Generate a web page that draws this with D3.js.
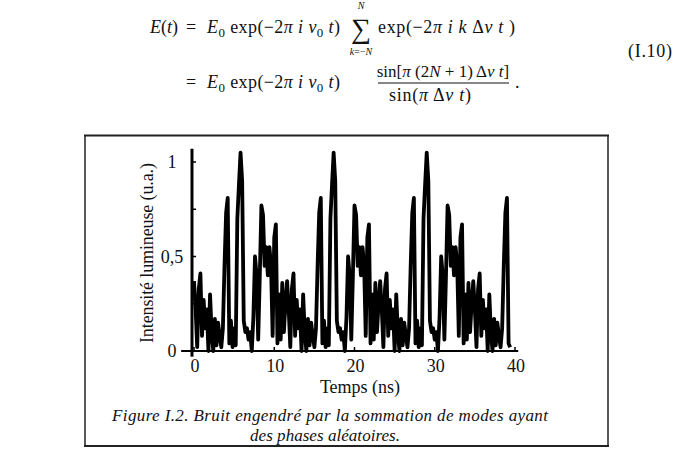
<!DOCTYPE html>
<html><head><meta charset="utf-8">
<script src="https://cdn.jsdelivr.net/npm/d3@7"></script>
<style>body{margin:0;background:#fff}svg{display:block}text{font-family:"Liberation Serif","Times New Roman",serif;fill:#111}</style>
</head><body><svg id="c" width="693" height="470"></svg>
<script>
// ---- data ----
const timeStepNs = 0.2;
const intensity = [
 0.37,0.22,0.02,0.33,0.41,0.08,0.27,0.12,0.22,0.00,
 0.30,0.10,0.00,0.17,0.03,0.15,0.08,0.02,0.12,0.45,
 0.73,0.81,0.04,0.16,0.02,0.12,0.03,0.70,0.88,1.05,
 0.90,0.16,0.10,0.12,0.06,0.10,0.00,0.18,0.50,0.40,
 0.06,0.40,0.77,0.72,0.45,0.55,0.40,0.55,0.45,0.08,
 0.60,0.67,0.04,0.30,0.06,0.36,0.10,0.25,
 0.37,0.22,0.02,0.33,0.41,0.08,0.27,0.12,0.22,0.00,
 0.30,0.10,0.00,0.17,0.03,0.15,0.08,0.02,0.12,0.45,
 0.73,0.81,0.04,0.16,0.02,0.12,0.03,0.70,0.88,1.05,
 0.90,0.16,0.10,0.12,0.06,0.10,0.00,0.18,0.50,0.40,
 0.06,0.40,0.77,0.72,0.45,0.55,0.40,0.55,0.45,0.08,
 0.60,0.67,0.04,0.30,0.06,0.36,0.10,0.25,
 0.37,0.22,0.02,0.33,0.41,0.08,0.27,0.12,0.22,0.00,
 0.30,0.10,0.00,0.17,0.03,0.15,0.08,0.02,0.12,0.45,
 0.73,0.81,0.04,0.16,0.02,0.12,0.03,0.70,0.88,1.05,
 0.90,0.16,0.10,0.12,0.06,0.10,0.00,0.18,0.50,0.40,
 0.06,0.40,0.77,0.72,0.45,0.55,0.40,0.55,0.45,0.08,
 0.60,0.67,0.04,0.30,0.06,0.36,0.10,0.25,
 0.37,0.22,0.02,0.33,0.41,0.08,0.27,0.12,0.22,0.00,
 0.30,0.10,0.00,0.17,0.03,0.15,0.08,0.02,0.12,0.45,
 0.73,0.81,0.04,0.02
];
const xTicks = [0, 10, 20, 30, 40];
const xTickLabels = ["0", "10", "20", "30", "40"];
const yTicks = [0, 0.5, 1];
const yTickLabels = ["0", "0,5", "1"];
const yMinorTicks = [0.25, 0.5, 0.75, 1];
const xTitle = "Temps (ns)";
const yTitle = "Intensité lumineuse (u.a.)";
const caption1 = "Figure I.2. Bruit engendré par la sommation de modes ayant";
const caption2 = "des phases aléatoires.";

const svg = d3.select("#c");
svg.append("rect").attr("width",693).attr("height",470).attr("fill","#fff");

// ---- equation ----
function rich(x, y, parts, size, opts = {}) {
  const t = svg.append("text").attr("x", x).attr("y", y).attr("font-size", size)
    .attr("text-anchor", opts.anchor || "start");
  if (opts.len) t.attr("textLength", opts.len).attr("lengthAdjust", "spacing");
  let shift = 0;
  parts.forEach(([s, st]) => {
    const ts = t.append("tspan").text(s);
    const want = st.includes("s") ? 4 : 0;
    if (want !== shift) { ts.attr("dy", want - shift); shift = want; }
    if (st.includes("i")) ts.attr("font-style", "italic");
    if (st.includes("s")) ts.attr("font-size", size * 0.72);
  });
  return t;
}
const fs = 18;
const y1 = 33, y2 = 88;
const ePart = [["E","i"],["0","s"],[" exp(−2",""],["π","i"],[" i","i"],[" ν","i"],["0","s"],[" t","i"],[")",""]];
rich(150, y1, [["E","i"],["(",""],["t","i"],[")",""]], fs, {len: 28});
rich(186, y1, [["=",""]], fs);
rich(207, y1, ePart, fs, {len: 133});
svg.append("text").attr("x", 361).attr("y", 38).attr("text-anchor","middle").attr("font-size", 28).text("∑");
rich(361, 9, [["N","i"]], 10, {anchor:"middle"});
rich(361, 55, [["k","i"],["=−",""],["N","i"]], 10, {anchor:"middle"});
rich(378, y1, [["exp(−2",""],["π","i"],[" i","i"],[" k","i"],[" Δ",""],["ν","i"],[" t","i"],[" )",""]], fs, {len: 137});
rich(628, 57, [["(I.10)",""]], fs, {len: 44});

rich(186, y2, [["=",""]], fs);
rich(207, y2, ePart, fs, {len: 133});
rich(443, 77, [["sin",""],["[",""],["π","i"],[" (2",""],["N","i"],[" + 1) Δ",""],["ν","i"],[" t","i"],["]",""]], 17, {anchor:"middle"});
svg.append("line").attr("x1",378).attr("x2",509).attr("y1",83).attr("y2",83).attr("stroke","#111").attr("stroke-width",1.2);
rich(430, 101, [["sin(",""],["π","i"],[" Δ",""],["ν","i"],[" t","i"],[")",""]], fs, {anchor:"middle", len: 82});
rich(515, y2, [[".",""]], fs);

// ---- frame ----
svg.append("line").attr("x1",84).attr("x2",609).attr("y1",135.5).attr("y2",135.5).attr("stroke","#222").attr("stroke-width",2);
svg.append("line").attr("x1",84).attr("x2",609).attr("y1",446).attr("y2",446).attr("stroke","#222").attr("stroke-width",2);
svg.append("line").attr("x1",85).attr("x2",85).attr("y1",135).attr("y2",446).attr("stroke","#222").attr("stroke-width",1.5);
svg.append("line").attr("x1",608).attr("x2",608).attr("y1",135).attr("y2",446).attr("stroke","#222").attr("stroke-width",1.5);

// ---- chart ----
const x = d3.scaleLinear().domain([0, 40]).range([194, 515]);
const y = d3.scaleLinear().domain([0, 1]).range([351, 162]);
const pts = intensity.map((v, i) => [i * timeStepNs, v]);

const line = d3.line().x(d => x(d[0])).y(d => y(d[1]));
svg.append("path").datum(pts).attr("d", line).attr("fill","none")
  .attr("stroke","#000").attr("stroke-width",3.8).attr("stroke-linejoin","round");

// axes
svg.append("line").attr("x1", x(-1.6)).attr("x2", x(40.4)).attr("y1", y(0)).attr("y2", y(0))
  .attr("stroke","#000").attr("stroke-width",2.2);
svg.append("line").attr("x1", x(-0.25)).attr("x2", x(-0.25)).attr("y1", y(-0.03)).attr("y2", y(1.07))
  .attr("stroke","#000").attr("stroke-width",3);
svg.selectAll(".ym").data(yMinorTicks).join("line")
  .attr("x1", x(-0.25)).attr("x2", x(-0.25) + 4).attr("y1", d => y(d)).attr("y2", d => y(d))
  .attr("stroke","#000").attr("stroke-width",1.5);
svg.selectAll(".xm").data(xTicks).join("line")
  .attr("x1", d => x(d)).attr("x2", d => x(d)).attr("y1", y(0)).attr("y2", y(0) - 4)
  .attr("stroke","#000").attr("stroke-width",1.5);

svg.selectAll(".xl").data(xTicks).join("text")
  .attr("x", d => x(d) + 1).attr("y", 372).attr("text-anchor","middle").attr("font-size", 18)
  .text((d, i) => xTickLabels[i]);
svg.selectAll(".yl").data(yTicks).join("text")
  .attr("x", 172).attr("y", d => y(d) + 6).attr("text-anchor","middle").attr("font-size", 18)
  .text((d, i) => yTickLabels[i]);

svg.append("text").attr("x", 360).attr("y", 393).attr("text-anchor","middle").attr("font-size", 18).text(xTitle);
svg.append("text").attr("transform","translate(153,253) rotate(-90)").attr("text-anchor","middle")
  .attr("font-size", 18).attr("textLength", 180).attr("lengthAdjust","spacing").text(yTitle);

svg.append("text").attr("x", 330).attr("y", 421).attr("text-anchor","middle").attr("font-size", 17)
  .attr("font-style","italic").attr("textLength", 436).attr("lengthAdjust","spacing").text(caption1);
svg.append("text").attr("x", 325).attr("y", 441).attr("text-anchor","middle").attr("font-size", 17)
  .attr("font-style","italic").attr("textLength", 150).attr("lengthAdjust","spacing").text(caption2);
</script></body></html>
